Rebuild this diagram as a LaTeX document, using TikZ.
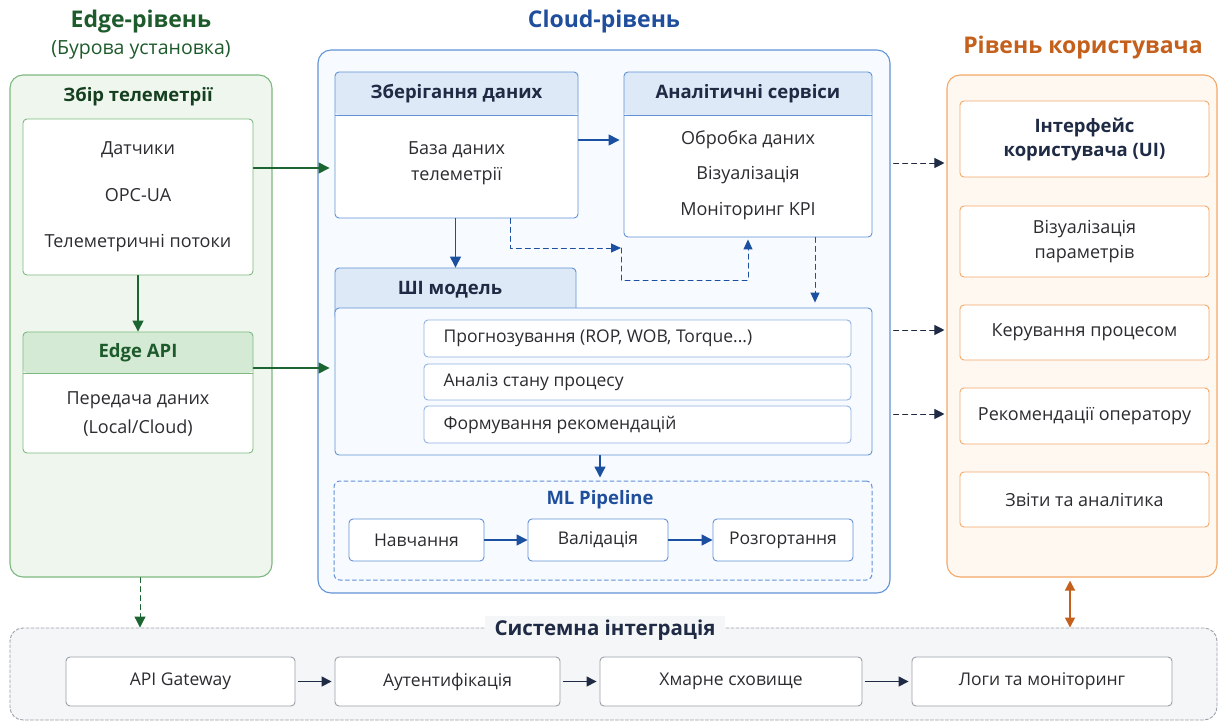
\documentclass[tikz,border=0pt]{standalone}
\usepackage{fontspec}
\setmainfont{Open Sans}
\usetikzlibrary{calc,arrows.meta}

\definecolor{txt}{HTML}{2A2C30}
\definecolor{inkNavy}{HTML}{1F2A44}
\definecolor{edgeDark}{HTML}{1E5B2C}
\definecolor{edgeLine}{HTML}{7DB97F}
\definecolor{edgeFill}{HTML}{EEF6EE}
\definecolor{edgeHead}{HTML}{D5EAD5}
\definecolor{edgeArrow}{HTML}{1D6530}
\definecolor{cloudDark}{HTML}{1F4E9C}
\definecolor{cloudLine}{HTML}{6193D6}
\definecolor{cloudFill}{HTML}{F7FAFE}
\definecolor{cloudHead}{HTML}{DEE9F7}
\definecolor{cloudArrow}{HTML}{1B4FA0}
\definecolor{userDark}{HTML}{C4601C}
\definecolor{userLine}{HTML}{F2A869}
\definecolor{userFill}{HTML}{FFF8F1}
\definecolor{sysLine}{HTML}{9AA0A8}
\definecolor{sysFill}{HTML}{F5F6F8}

\begin{document}
\begin{tikzpicture}[x=1pt,y=-1pt,line cap=round,line join=round,
  font=\fontsize{18}{22}\selectfont,text=txt,
  zone/.style={draw,rounded corners=13pt,line width=1.1pt},
  card/.style={draw,rounded corners=4pt,fill=white,line width=.9pt,inner sep=0pt},
  band/.style n args={3}{path picture={
      \fill[#1] (path picture bounding box.north west) rectangle
        ([yshift=-#2pt]path picture bounding box.north east);
      \draw[#3,line width=.9pt] ([yshift=-#2pt]path picture bounding box.north west)
        -- ([yshift=-#2pt]path picture bounding box.north east);}},
  lvl/.style={font=\fontsize{23}{27}\selectfont\bfseries},
  head/.style={font=\fontsize{18.5}{22}\selectfont\bfseries},
  small/.style={font=\fontsize{17.5}{21}\selectfont},
  gflow/.style={edgeArrow,line width=1.4pt,-{Triangle[length=11pt,width=11pt]}},
  bflow/.style={cloudArrow,line width=1.4pt,-{Triangle[length=11pt,width=11pt]}},
  dflow/.style={cloudArrow,line width=1pt,dash pattern=on 5pt off 4pt,
    -{Triangle[length=10pt,width=9pt]}},
  nflow/.style={inkNavy,line width=1.4pt,-{Triangle[length=10pt,width=10pt]}},
  ndash/.style={inkNavy,line width=1pt,dash pattern=on 5pt off 4pt,
    -{Triangle[length=10pt,width=10pt]}}]
  \useasboundingbox (0,0) rectangle (1219,724);

  % Edge level
  \node[lvl,text=edgeDark] (edgeT) at (141,22) {Edge-рівень};
  \node[text=edgeDark,font=\fontsize{19.5}{23}\selectfont] (edgeS) at (141,50) {(Бурова установка)};
  \node[zone,draw=edgeLine,fill=edgeFill,minimum width=262,minimum height=502] (edge) at (141,326) {};
  \node[head,text=edgeDark!70!black] (collT) at (138,97) {Збір телеметрії};
  \node[card,draw=edgeLine,minimum width=230,minimum height=156] (tel) at (138,197) {};
  \node (tel1) at (138,150) {Датчики};
  \node (tel2) at (138,195) {OPC-UA};
  \node (tel3) at (138,243) {Телеметричні потоки};
  \node[card,draw=edgeLine,band={edgeHead}{41}{edgeLine},minimum width=230,minimum height=121] (eapi) at (138,392.5) {};
  \node[head,text=edgeDark] (eapiT) at (138,353) {Edge API};
  \node (eapi1) at (138,400) {Передача даних};
  \node (eapi2) at (138,428) {(Local/Cloud)};

  % Cloud level
  \node[lvl,text=cloudDark] (cloudT) at (604,22) {Cloud-рівень};
  \node[zone,draw=cloudLine,fill=cloudFill,minimum width=572,minimum height=543] (cloud) at (604,321.5) {};
  \node[card,draw=cloudLine,band={cloudHead}{43}{cloudLine},minimum width=243,minimum height=146] (store) at (456.5,145) {};
  \node[head,text=inkNavy] (storeT) at (456.5,94) {Зберігання даних};
  \node (store1) at (456.5,150) {База даних};
  \node (store2) at (456.5,176) {телеметрії};
  \node[card,draw=cloudLine,band={cloudHead}{43}{cloudLine},minimum width=248,minimum height=165] (anl) at (748,154.5) {};
  \node[head,text=inkNavy] (anlT) at (748,94) {Аналітичні сервіси};
  \node (anl1) at (748,140) {Обробка даних};
  \node (anl2) at (748,175) {Візуалізація};
  \node (anl3) at (748,211) {Моніторинг KPI};

  \node[card,draw=cloudLine,fill=cloudHead,minimum width=241,minimum height=52] (aitab) at (455.5,294) {};
  \node[card,draw=cloudLine,fill=cloudFill,minimum width=537,minimum height=147] (ai) at (603.5,381.5) {};
  \node[head,text=inkNavy] (aiT) at (450,290) {ШІ модель};
  \node[card,draw=cloudLine!70,minimum width=427,minimum height=37] (pred) at (637.5,338.5) {};
  \node[card,draw=cloudLine!70,minimum width=427,minimum height=36] (state) at (637.5,382) {};
  \node[card,draw=cloudLine!70,minimum width=427,minimum height=37] (recm) at (637.5,424.5) {};
  \node[small,anchor=west] (predL) at (440,338.5) {Прогнозування (ROP, WOB, Torque...)};
  \node[small,anchor=west] (stateL) at (440,382) {Аналіз стану процесу};
  \node[small,anchor=west] (recmL) at (440,424.5) {Формування рекомендацій};

  \node[draw=cloudLine,rounded corners=6pt,line width=1pt,dash pattern=on 4pt off 3pt,
    minimum width=538,minimum height=99] (ml) at (603,530.5) {};
  \node[head,text=cloudDark] (mlT) at (600,500) {ML Pipeline};
  \node[card,draw=cloudLine,small,minimum width=135,minimum height=42] (train) at (416.5,540) {Навчання};
  \node[card,draw=cloudLine,small,minimum width=140,minimum height=42] (valid) at (598,540) {Валідація};
  \node[card,draw=cloudLine,small,minimum width=140,minimum height=42] (deploy) at (783,540) {Розгортання};

  % User level
  \node[lvl,text=userDark] (userT) at (1083,48) {Рівень користувача};
  \node[zone,draw=userLine,fill=userFill,minimum width=270,minimum height=502] (user) at (1082,326) {};
  \node[card,draw=userLine,minimum width=249,minimum height=76] (ui) at (1084.5,139) {};
  \node[head,text=inkNavy] (ui1) at (1084.5,127) {Інтерфейс};
  \node[head,text=inkNavy] (ui2) at (1084.5,152) {користувача (UI)};
  \node[card,draw=userLine,minimum width=249,minimum height=71] (vis) at (1084.5,241.5) {};
  \node (vis1) at (1084.5,229) {Візуалізація};
  \node (vis2) at (1084.5,254) {параметрів};
  \node[card,draw=userLine,minimum width=249,minimum height=55] (ctrl) at (1084.5,332.5) {Керування процесом};
  \node[card,draw=userLine,minimum width=249,minimum height=56] (oper) at (1084.5,416) {Рекомендації оператору};
  \node[card,draw=userLine,minimum width=249,minimum height=55] (rep) at (1084.5,499.5) {Звіти та аналітика};

  % System integration
  \node[draw=sysLine,fill=sysFill,rounded corners=13pt,line width=.9pt,dash pattern=on 3pt off 2pt,
    minimum width=1207,minimum height=92] (sys) at (613.5,674) {};
  \node[text=inkNavy,fill=sysFill,inner xsep=10pt,font=\fontsize{20.5}{24}\selectfont\bfseries] (sysT) at (605,630) {Системна інтеграція};
  \node[card,draw=sysLine,small,minimum width=229,minimum height=49] (gw) at (180.5,681.5) {API Gateway};
  \node[card,draw=sysLine,small,minimum width=225,minimum height=49] (auth) at (447.5,681.5) {Аутентифікація};
  \node[card,draw=sysLine,small,minimum width=262,minimum height=49] (stg) at (731,681.5) {Хмарне сховище};
  \node[card,draw=sysLine,small,minimum width=260,minimum height=49] (logs) at (1042,681.5) {Логи та моніторинг};

  % connectors
  \draw[gflow] (tel) -- (eapi);
  \draw[gflow,shorten >=5pt] (tel.east |- 0,168) -- (store.west |- 0,168);
  \draw[gflow,shorten >=5pt] (eapi.east |- 0,368) -- (ai.west |- 0,368);
  \draw[gflow,dash pattern=on 5pt off 4pt,line width=1pt] (edge.south -| 140,0) -- (sys.north -| 140,0);

  \draw[bflow,shorten >=4pt] (store.east |- 0,140) -- (anl.west |- 0,140);
  \draw[bflow] (aitab.north |- store.south) -- (aitab.north);
  \coordinate (dj) at (621,248);
  \draw[dflow] (store.south -| 510,0) |- (dj);
  \draw[dflow,shorten >=2pt] (dj) -- ++(0,32) -| (anl.south);
  \draw[dflow,shorten >=5pt] (anl.south -| 815,0) -- (ai.north -| 815,0);
  \draw[bflow,shorten >=3pt] (ai.south -| 600,0) -- (ml.north -| 600,0);
  \draw[bflow] (train) -- (valid);
  \draw[bflow] (valid) -- (deploy);

  \draw[ndash,shorten <=3pt,shorten >=2pt] (cloud.east |- 0,163) -- (user.west |- 0,163);
  \draw[ndash,shorten <=3pt,shorten >=2pt] (cloud.east |- 0,330) -- (user.west |- 0,330);
  \draw[ndash,shorten <=3pt,shorten >=2pt] (cloud.east |- 0,414) -- (user.west |- 0,414);
  \draw[userDark,line width=1.4pt,{Triangle[length=10pt,width=10pt]}-{Triangle[length=10pt,width=10pt]},
    shorten <=3pt] (user.south -| 1070,0) -- (sys.north -| 1070,0);

  \draw[nflow,shorten <=3pt,shorten >=3pt] (gw) -- (auth);
  \draw[nflow,shorten <=3pt,shorten >=3pt] (auth) -- (stg);
  \draw[nflow,shorten <=3pt,shorten >=3pt] (stg) -- (logs);
\end{tikzpicture}
\end{document}
